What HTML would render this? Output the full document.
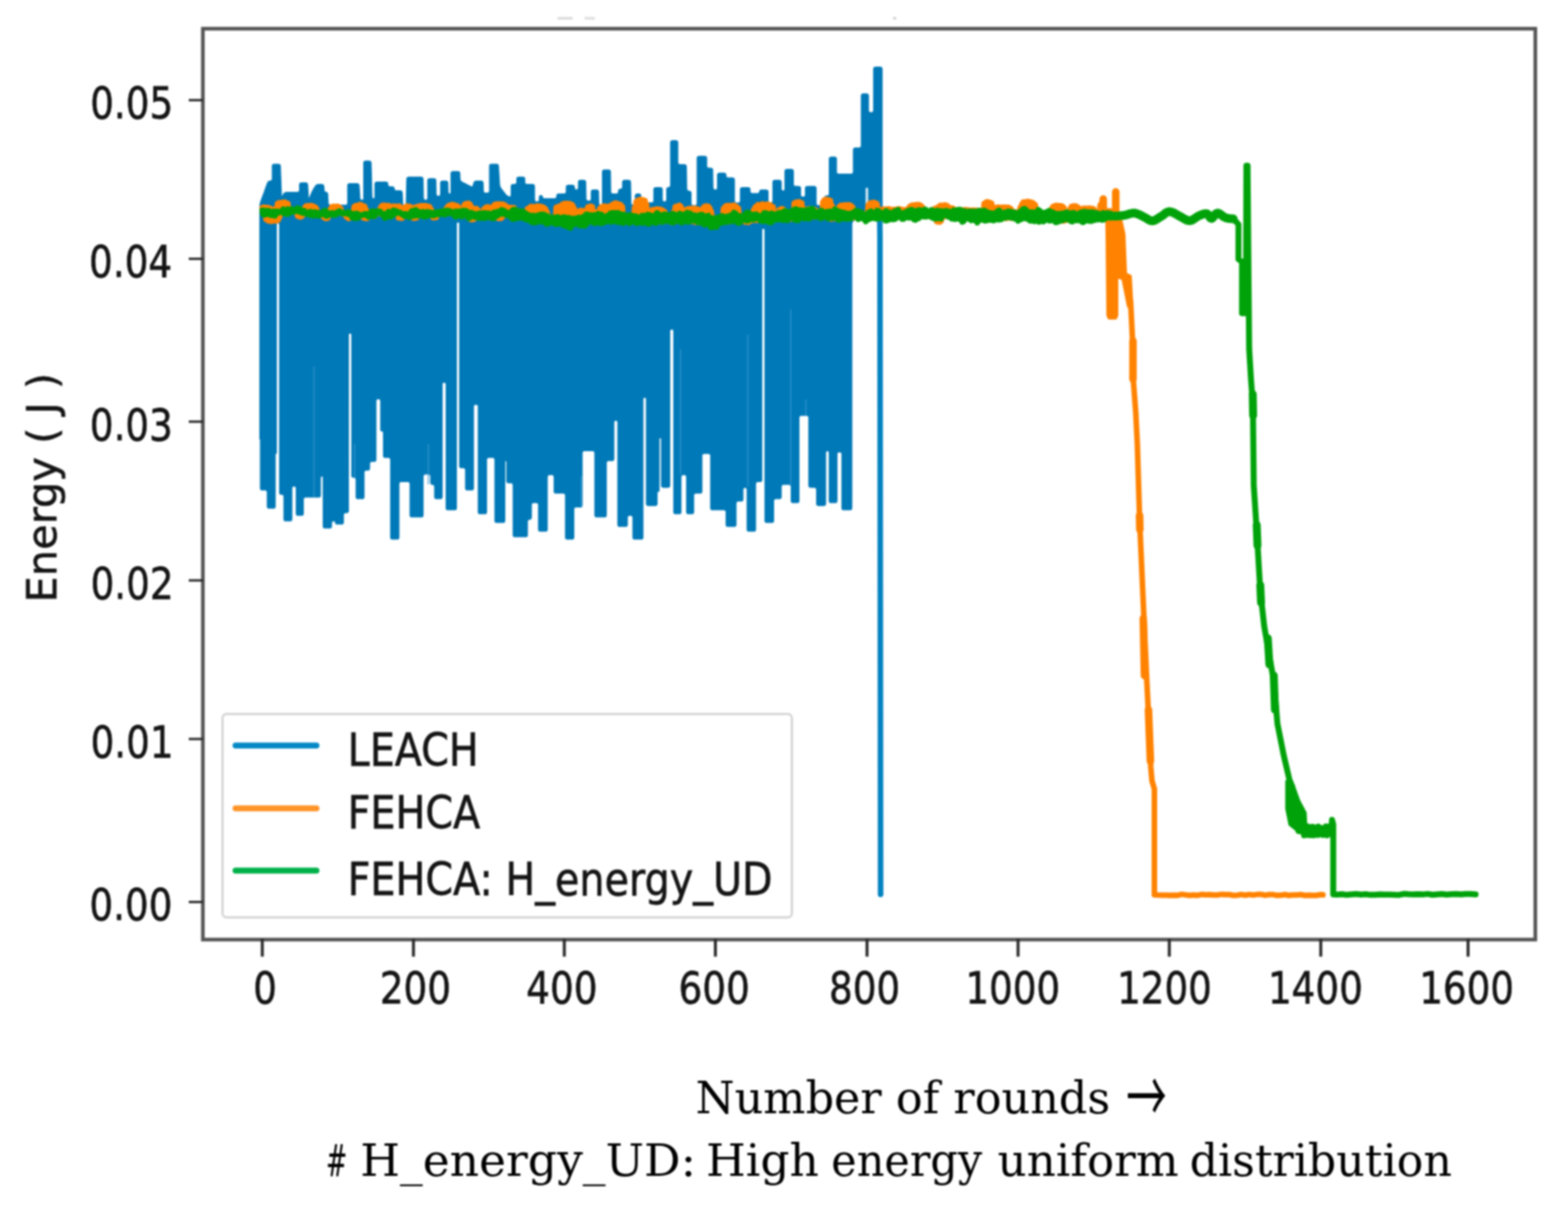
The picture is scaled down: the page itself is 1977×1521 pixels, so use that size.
<!DOCTYPE html>
<html><head><meta charset="utf-8"><title>Energy vs rounds</title>
<style>
html,body{margin:0;padding:0;background:#fff;}
body{width:1977px;height:1521px;overflow:hidden;}
svg{display:block;filter:blur(1.2px);}
</style></head>
<body>
<svg width="1977" height="1521" viewBox="0 0 1977 1521">
<rect width="1977" height="1521" fill="#fff"/>
<rect x="703" y="21.5" width="19" height="3" fill="#d8d8d8"/><rect x="737" y="21.5" width="13" height="3" fill="#dcdcdc"/><rect x="1126" y="21.5" width="4" height="3" fill="#d0d0d0"/>
<g id="data">
<path d="M327.6,264.6 L327.6,264.6 Q327.6,262.0 327.8,259.4 L327.8,258.6 Q328.0,256.0 328.9,253.6 L329.1,253.1 Q330.0,250.7 330.9,248.3 L333.1,242.4 Q334.0,240.0 334.8,237.5 L337.2,230.9 Q338.0,228.4 340.6,228.4 L340.7,228.4 Q343.3,228.4 343.3,225.8 L343.3,209.8 Q343.3,207.2 345.9,207.2 L350.8,207.2 Q353.4,207.2 353.5,209.8 L354.9,247.4 Q355.0,250.0 356.1,247.6 L357.4,244.9 Q358.5,242.5 361.1,242.5 L375.1,242.5 Q377.7,242.5 377.7,239.9 L377.7,233.1 Q377.7,230.5 380.3,230.5 L385.2,230.5 Q387.8,230.5 387.9,233.1 L388.9,250.1 Q389.0,252.7 390.0,250.3 L393.0,243.0 Q394.0,240.6 395.4,238.4 L397.6,234.7 Q399.0,232.5 401.6,232.5 L405.4,232.5 Q408.0,232.5 408.3,235.1 L408.8,240.6 Q409.0,242.6 411.0,242.6 L411.0,242.6 Q413.0,242.6 413.1,244.6 L413.8,256.2 Q414.0,258.8 416.6,258.8 L435.8,258.8 Q438.4,258.8 438.4,256.2 L438.4,234.1 Q438.4,231.5 441.0,231.5 L450.0,231.5 Q452.6,231.5 452.8,234.1 L453.8,250.4 Q454.0,252.7 456.3,252.7 L456.3,252.7 Q458.6,252.7 458.6,250.4 L458.6,205.6 Q458.6,203.0 461.2,203.0 L465.2,203.0 Q467.8,203.0 467.9,205.6 L469.0,248.8 Q469.0,250.7 470.9,250.7 L470.9,250.7 Q472.8,250.7 472.8,248.8 L472.8,232.1 Q472.8,229.5 475.4,229.5 L486.4,229.5 Q489.0,229.5 489.0,232.1 L489.0,232.9 Q489.0,235.5 491.6,235.5 L494.4,235.5 Q497.0,235.5 497.0,238.1 L497.0,238.1 Q497.0,240.6 499.6,240.6 L504.4,240.6 Q507.0,240.6 507.1,243.2 L507.9,258.8 Q508.0,260.8 510.0,260.8 L510.0,260.8 Q512.0,260.8 512.1,258.8 L512.9,226.0 Q513.0,223.4 515.6,223.4 L530.7,223.4 Q533.3,223.4 533.4,226.0 L533.9,250.1 Q534.0,252.7 536.6,252.7 L536.7,252.7 Q539.3,252.7 539.3,250.1 L539.3,228.0 Q539.3,225.4 541.9,225.4 L546.9,225.4 Q549.5,225.4 549.6,228.0 L549.9,245.1 Q550.0,247.7 552.6,247.7 L552.9,247.7 Q555.5,247.7 555.5,245.1 L555.5,231.0 Q555.5,228.4 558.1,228.4 L562.0,228.4 Q564.6,228.4 564.7,231.0 L565.0,242.8 Q565.0,244.6 566.9,244.6 L566.9,244.6 Q568.7,244.6 568.7,242.7 L568.7,218.9 Q568.7,216.3 571.3,216.3 L577.2,216.3 Q579.8,216.3 579.8,218.9 L580.0,225.8 Q580.0,228.4 582.3,229.6 L593.7,235.3 Q596.0,236.5 596.6,234.0 L597.4,230.9 Q598.0,228.4 600.6,228.4 L606.4,228.4 Q609.0,228.4 609.1,231.0 L609.4,241.0 Q609.5,243.6 612.1,243.6 L614.6,243.6 Q617.2,243.6 617.2,241.0 L617.2,209.8 Q617.2,207.2 619.8,207.2 L625.8,207.2 Q628.4,207.2 628.5,209.8 L629.9,232.9 Q630.0,235.5 631.6,237.6 L637.9,245.7 Q639.5,247.7 642.0,248.2 L642.0,248.2 Q644.5,248.7 644.5,246.2 L644.5,235.1 Q644.5,232.5 647.1,232.5 L649.0,232.5 Q651.6,232.5 651.6,229.9 L651.6,226.0 Q651.6,223.4 654.2,223.4 L659.1,223.4 Q661.7,223.4 661.7,226.0 L661.7,229.9 Q661.7,232.5 664.3,232.5 L671.3,232.5 Q673.9,232.5 673.9,235.1 L674.0,252.1 Q674.0,254.7 676.6,254.7 L677.4,254.7 Q680.0,254.7 680.0,252.1 L680.0,248.7 Q680.0,246.7 682.0,246.7 L682.0,246.7 Q684.0,246.7 684.0,248.7 L684.0,248.7 Q684.0,250.7 686.0,250.7 L699.4,250.7 Q702.0,250.7 702.0,248.1 L702.0,247.2 Q702.0,244.6 704.6,244.6 L711.4,244.6 Q714.0,244.6 714.0,242.0 L714.0,236.1 Q714.0,233.5 716.6,233.5 L721.6,233.5 Q724.2,233.5 724.2,236.1 L724.2,237.1 Q724.2,239.6 726.8,239.6 L726.8,239.6 Q729.3,239.6 729.3,237.1 L729.3,230.0 Q729.3,227.4 731.9,227.4 L735.8,227.4 Q738.4,227.4 738.5,230.0 L738.9,251.1 Q739.0,253.7 741.6,253.7 L742.9,253.7 Q745.5,253.7 745.5,251.1 L745.5,242.2 Q745.5,239.6 748.1,239.6 L752.0,239.6 Q754.6,239.6 754.7,242.2 L755.0,256.5 Q755.0,258.8 757.3,258.8 L757.3,258.8 Q759.6,258.8 759.6,256.5 L759.6,216.9 Q759.6,214.3 762.2,214.3 L767.1,214.3 Q769.7,214.3 769.7,216.9 L770.0,242.0 Q770.0,244.6 772.6,244.6 L777.3,244.6 Q779.9,244.6 779.9,242.0 L779.9,241.2 Q779.9,238.6 782.5,238.6 L782.5,238.6 Q785.0,238.6 785.0,236.0 L785.0,230.0 Q785.0,227.4 787.6,227.4 L792.4,227.4 Q795.0,227.4 795.0,230.0 L795.5,256.2 Q795.5,258.8 798.1,258.8 L798.4,258.8 Q801.0,258.8 801.0,256.2 L801.0,247.2 Q801.0,244.6 803.6,244.6 L805.4,244.6 Q808.0,244.6 808.0,247.2 L808.0,253.2 Q808.0,255.8 810.6,255.8 L821.8,255.8 Q824.4,255.8 824.4,253.2 L824.4,239.1 Q824.4,236.5 827.0,236.5 L832.4,236.5 Q835.0,236.5 835.0,239.1 L835.0,252.1 Q835.0,254.7 837.6,254.7 L838.0,254.7 Q840.6,254.7 840.6,252.1 L840.6,238.9 Q840.6,236.5 843.0,236.5 L843.0,236.5 Q845.5,236.5 845.5,234.1 L845.5,179.9 Q845.5,177.3 848.1,177.3 L852.0,177.3 Q854.6,177.3 854.6,179.9 L854.6,205.1 Q854.6,207.7 857.2,207.7 L862.7,207.7 Q865.3,207.7 865.4,210.3 L865.9,238.4 Q866.0,241.0 868.6,241.0 L868.7,241.0 Q871.3,241.0 871.3,243.6 L871.3,256.7 Q871.3,259.3 873.9,259.3 L876.4,259.3 Q879.0,259.3 879.0,256.7 L879.0,199.6 Q879.0,197.0 881.6,197.0 L888.4,197.0 Q891.0,197.0 891.0,199.6 L891.0,209.6 Q891.0,212.2 893.6,212.2 L896.0,212.2 Q898.6,212.2 898.6,214.8 L899.0,236.9 Q899.0,239.5 901.6,239.5 L902.1,239.5 Q904.7,239.5 904.7,236.9 L904.7,220.9 Q904.7,218.3 907.3,218.3 L912.7,218.3 Q915.3,218.3 915.3,220.9 L915.3,221.8 Q915.3,224.4 917.9,224.4 L923.4,224.4 Q926.0,224.4 926.0,227.0 L926.0,253.6 Q926.0,256.2 928.6,256.2 L930.9,256.2 Q933.5,256.2 933.5,253.6 L933.5,239.1 Q933.5,236.5 936.1,236.5 L943.1,236.5 Q945.7,236.5 945.7,239.1 L945.7,241.4 Q945.7,244.0 948.3,244.0 L955.5,244.0 Q957.8,244.0 957.8,241.8 L957.8,241.8 Q957.8,239.5 960.0,239.5 L965.8,239.5 Q968.4,239.5 968.4,242.1 L968.4,253.4 Q968.4,256.0 971.0,256.0 L971.9,256.0 Q974.5,256.0 974.5,253.4 L974.5,230.0 Q974.5,227.4 977.1,227.4 L982.4,227.4 Q985.0,227.4 985.0,230.0 L985.0,238.6 Q985.0,241.0 987.4,241.0 L987.4,241.0 Q989.7,241.0 989.7,238.6 L989.7,216.3 Q989.7,213.7 992.3,213.7 L997.7,213.7 Q1000.3,213.7 1000.3,216.3 L1000.3,232.4 Q1000.3,235.0 1002.9,235.0 L1006.8,235.0 Q1009.4,235.0 1009.4,237.6 L1009.4,246.0 Q1009.4,248.6 1012.0,248.6 L1012.9,248.6 Q1015.5,248.6 1015.5,246.0 L1015.5,237.6 Q1015.5,235.0 1018.1,235.0 L1026.4,235.0 Q1029.0,235.0 1029.0,237.6 L1029.0,256.7 Q1029.0,259.3 1031.6,259.3 L1037.2,259.3 Q1039.8,259.3 1039.8,256.7 L1039.8,249.6 Q1039.8,247.0 1042.4,247.0 L1043.0,247.0 Q1045.6,247.0 1045.6,244.4 L1045.6,200.6 Q1045.6,198.0 1048.2,198.0 L1052.1,198.0 Q1054.7,198.0 1054.7,200.6 L1054.7,216.9 Q1054.7,219.5 1057.3,219.5 L1073.4,219.5 Q1076.0,219.5 1076.0,216.9 L1076.0,189.2 Q1076.0,186.6 1078.6,186.6 L1083.4,186.6 Q1086.0,186.6 1086.0,184.0 L1086.0,121.0 Q1086.0,118.4 1088.6,118.4 L1092.4,118.4 Q1095.0,118.4 1095.0,121.0 L1095.0,139.6 Q1095.0,142.2 1097.6,142.2 L1098.9,142.2 Q1101.5,142.2 1101.5,139.6 L1101.5,87.3 Q1101.5,84.7 1104.1,84.7 L1109.6,84.7 Q1112.2,84.7 1112.2,87.3 L1112.2,259.4 Q1112.2,262.0 1109.6,262.5 L1092.6,265.5 Q1090.0,266.0 1088.0,267.7 L1076.0,278.3 Q1074.0,280.0 1074.0,282.6 L1074.0,640.4 Q1074.0,643.0 1071.4,643.0 L1064.1,643.0 Q1061.5,643.0 1061.5,640.4 L1061.5,572.6 Q1061.5,570.0 1058.9,570.0 L1057.9,570.0 Q1055.3,570.0 1055.3,572.6 L1055.3,631.4 Q1055.3,634.0 1052.7,634.0 L1048.1,634.0 Q1045.5,634.0 1045.5,631.4 L1045.5,570.8 Q1045.5,568.5 1043.2,568.5 L1043.2,568.5 Q1041.0,568.5 1041.0,570.8 L1041.0,635.1 Q1041.0,637.7 1038.4,637.7 L1032.2,637.7 Q1029.6,637.7 1029.6,635.1 L1029.6,617.3 Q1029.6,614.7 1027.0,614.7 L1022.4,614.7 Q1019.8,614.7 1019.8,612.1 L1019.8,526.6 Q1019.8,524.0 1017.2,524.0 L1010.0,524.0 Q1007.4,524.0 1007.4,526.6 L1007.4,631.4 Q1007.4,634.0 1004.8,634.0 L1000.2,634.0 Q997.6,634.0 997.6,631.4 L997.6,613.6 Q997.6,611.0 995.0,611.0 L987.6,611.0 Q985.0,611.0 985.0,613.6 L985.0,626.4 Q985.0,629.0 982.4,629.0 L978.0,629.0 Q975.4,629.0 975.4,631.6 L975.4,656.4 Q975.4,659.0 972.8,659.0 L967.1,659.0 Q964.5,659.0 964.5,656.4 L964.5,290.0 Q964.5,288.0 962.5,288.0 L962.5,288.0 Q960.5,288.0 960.5,290.0 L960.5,604.9 Q960.5,607.5 957.9,607.5 L955.3,607.5 Q952.7,607.5 952.7,610.1 L952.7,667.4 Q952.7,670.0 950.1,670.0 L944.6,670.0 Q942.0,670.0 942.0,667.4 L942.0,617.3 Q942.0,614.7 939.4,614.7 L939.4,614.7 Q936.8,614.7 936.8,617.3 L936.8,629.4 Q936.8,632.0 934.2,632.0 L930.6,632.0 Q928.0,632.0 928.0,634.6 L928.0,661.4 Q928.0,664.0 925.4,664.0 L918.1,664.0 Q915.5,664.0 915.5,661.4 L915.5,645.6 Q915.5,643.0 912.9,643.0 L898.6,643.0 Q896.0,643.0 896.0,640.4 L896.0,574.6 Q896.0,572.0 893.4,572.0 L887.6,572.0 Q885.0,572.0 885.0,574.6 L885.0,619.4 Q885.0,622.0 882.4,622.0 L877.2,622.0 Q874.6,622.0 874.6,624.6 L874.6,645.4 Q874.6,648.0 872.0,648.0 L868.3,648.0 Q865.7,648.0 865.7,645.4 L865.7,601.3 Q865.7,598.7 863.1,598.7 L861.2,598.7 Q858.6,598.7 858.6,601.3 L858.6,645.4 Q858.6,648.0 856.0,648.0 L852.1,648.0 Q849.5,648.0 849.5,645.4 L849.5,417.5 Q849.5,415.0 847.0,415.0 L847.0,415.0 Q844.5,415.0 844.5,417.5 L844.5,612.1 Q844.5,614.7 841.9,614.7 L836.6,614.7 Q834.0,614.7 834.0,612.1 L834.0,553.5 Q834.0,552.0 832.5,552.0 L832.5,552.0 Q831.0,552.0 831.0,553.5 L831.0,618.8 Q831.0,620.0 829.8,620.0 L829.8,620.0 Q828.5,620.0 828.5,621.2 L828.5,635.1 Q828.5,637.7 825.9,637.7 L817.6,637.7 Q815.0,637.7 815.0,635.1 L815.0,503.1 Q815.0,501.0 812.9,501.0 L812.9,501.0 Q810.7,501.0 810.7,503.1 L810.7,677.4 Q810.7,680.0 808.1,680.0 L800.6,680.0 Q798.0,680.0 798.0,677.4 L798.0,652.6 Q798.0,650.0 795.4,650.0 L793.6,650.0 Q791.0,650.0 791.0,652.6 L791.0,661.4 Q791.0,664.0 788.4,664.0 L781.6,664.0 Q779.0,664.0 779.0,661.4 L779.0,532.5 Q779.0,530.0 776.5,530.0 L776.5,530.0 Q774.0,530.0 774.0,532.5 L774.0,578.4 Q774.0,581.0 771.4,581.0 L767.1,581.0 Q764.5,581.0 764.5,583.6 L764.5,649.4 Q764.5,652.0 761.9,652.0 L752.6,652.0 Q750.0,652.0 750.0,649.4 L750.0,571.1 Q750.0,568.5 747.4,568.5 L736.6,568.5 Q734.0,568.5 734.0,571.1 L734.0,636.9 Q734.0,639.5 731.4,639.5 L726.1,639.5 Q723.5,639.5 723.5,642.1 L723.5,677.4 Q723.5,680.0 720.9,680.0 L715.6,680.0 Q713.0,680.0 713.0,677.4 L713.0,624.6 Q713.0,622.0 710.4,622.0 L701.3,622.0 Q698.7,622.0 698.7,619.4 L698.7,601.3 Q698.7,598.7 696.1,598.7 L692.6,598.7 Q690.0,598.7 690.0,601.3 L690.0,667.4 Q690.0,670.0 687.4,670.0 L681.6,670.0 Q679.0,670.0 679.0,667.4 L679.0,636.6 Q679.0,634.0 676.4,634.0 L672.6,634.0 Q670.0,634.0 670.0,636.6 L670.0,652.5 Q670.0,655.0 667.5,655.0 L667.5,655.0 Q665.0,655.0 665.0,657.5 L665.0,674.4 Q665.0,677.0 662.4,677.0 L649.6,677.0 Q647.0,677.0 647.0,674.4 L647.0,611.6 Q647.0,609.0 644.4,609.0 L641.6,609.0 Q639.0,609.0 639.0,606.4 L639.0,582.2 Q639.0,581.0 637.8,581.0 L637.8,581.0 Q636.5,581.0 636.5,582.2 L636.5,656.4 Q636.5,659.0 633.9,659.0 L626.6,659.0 Q624.0,659.0 624.0,656.4 L624.0,579.6 Q624.0,577.0 621.4,577.0 L616.1,577.0 Q613.5,577.0 613.5,579.6 L613.5,645.4 Q613.5,648.0 610.9,648.0 L605.6,648.0 Q603.0,648.0 603.0,645.4 L603.0,512.6 Q603.0,510.0 600.4,510.0 L599.6,510.0 Q597.0,510.0 597.0,512.6 L597.0,615.4 Q597.0,618.0 594.4,618.0 L589.6,618.0 Q587.0,618.0 587.0,615.4 L587.0,592.6 Q587.0,590.0 584.4,590.0 L582.1,590.0 Q579.5,590.0 579.5,587.4 L579.5,282.0 Q579.5,280.0 577.5,280.0 L577.5,280.0 Q575.5,280.0 575.5,282.0 L575.5,640.4 Q575.5,643.0 572.9,643.0 L565.1,643.0 Q562.5,643.0 562.5,640.4 L562.5,484.5 Q562.5,482.0 560.0,482.0 L560.0,482.0 Q557.5,482.0 557.5,484.5 L557.5,626.4 Q557.5,629.0 554.9,629.0 L550.6,629.0 Q548.0,629.0 548.0,626.4 L548.0,613.5 Q548.0,611.0 545.5,611.0 L545.5,611.0 Q543.0,611.0 543.0,608.5 L543.0,600.4 Q543.0,597.8 540.4,597.8 L536.1,597.8 Q533.5,597.8 533.5,600.4 L533.5,649.4 Q533.5,652.0 530.9,652.0 L519.6,652.0 Q517.0,652.0 517.0,649.4 L517.0,610.1 Q517.0,607.5 514.4,607.5 L505.6,607.5 Q503.0,607.5 503.0,610.1 L503.0,677.4 Q503.0,680.0 500.4,680.0 L495.1,680.0 Q492.5,680.0 492.5,677.4 L492.5,579.6 Q492.5,577.0 489.9,577.0 L486.1,577.0 Q483.5,577.0 483.5,574.4 L483.5,545.4 Q483.5,543.6 481.8,543.6 L481.8,543.6 Q480.0,543.6 480.0,541.9 L480.0,505.6 Q480.0,503.0 477.4,503.0 L476.6,503.0 Q474.0,503.0 474.0,505.6 L474.0,579.4 Q474.0,582.0 471.4,582.0 L468.6,582.0 Q466.0,582.0 466.0,584.6 L466.0,590.4 Q466.0,593.0 463.4,593.0 L461.6,593.0 Q459.0,593.0 459.0,595.6 L459.0,626.4 Q459.0,629.0 456.4,629.0 L451.6,629.0 Q449.0,629.0 449.0,626.4 L449.0,604.6 Q449.0,602.0 446.4,602.0 L446.1,602.0 Q443.5,602.0 443.5,599.4 L443.5,422.1 Q443.5,420.0 441.4,420.0 L441.4,420.0 Q439.3,420.0 439.3,422.1 L439.3,644.0 Q439.3,646.6 436.7,646.6 L435.6,646.6 Q433.0,646.6 433.0,649.2 L433.0,658.4 Q433.0,661.0 430.4,661.0 L425.0,661.0 Q423.0,661.0 423.0,659.0 L423.0,659.0 Q423.0,657.0 421.0,657.0 L420.5,657.0 Q418.0,657.0 418.0,659.5 L418.0,663.4 Q418.0,666.0 415.4,666.0 L410.1,666.0 Q407.5,666.0 407.5,663.4 L407.5,602.2 Q407.5,600.5 405.8,600.5 L405.8,600.5 Q404.0,600.5 404.0,602.2 L404.0,624.4 Q404.0,627.0 401.4,627.0 L385.1,627.0 Q382.5,627.0 382.5,629.6 L382.5,647.4 Q382.5,650.0 379.9,650.0 L376.1,650.0 Q373.5,650.0 373.5,647.4 L373.5,615.6 Q373.5,613.0 370.9,613.0 L370.6,613.0 Q368.0,613.0 368.0,615.6 L368.0,654.4 Q368.0,657.0 365.4,657.0 L360.6,657.0 Q358.0,657.0 358.0,654.4 L358.0,626.1 Q358.0,623.5 355.4,623.5 L355.1,623.5 Q352.5,623.5 352.5,620.9 L352.5,283.0 Q352.5,281.0 350.5,281.0 L350.5,281.0 Q348.5,281.0 348.5,283.0 L348.5,571.2 Q348.5,572.0 347.8,572.0 L347.8,572.0 Q347.0,572.0 347.0,572.8 L347.0,638.4 Q347.0,641.0 344.4,641.0 L339.6,641.0 Q337.0,641.0 337.0,638.4 L337.0,620.6 Q337.0,618.0 334.4,618.0 L330.9,618.0 Q328.3,618.0 328.3,615.4 L328.3,554.4 Q328.3,554.0 328.0,554.0 L328.0,554.0 Q327.6,554.0 327.6,553.6 Z" fill="#0079b8" stroke="#0079b8" stroke-width="1.2" stroke-linejoin="round"/>
<line x1="1093" y1="238" x2="1093" y2="262" stroke="#ffffff" stroke-width="3" stroke-linecap="round" opacity="0.9"/><line x1="395.8" y1="462" x2="395.8" y2="627" stroke="#3a9ad0" stroke-width="2" opacity="0.6"/><line x1="540" y1="560" x2="540" y2="611" stroke="#3a9ad0" stroke-width="2" opacity="0.6"/><line x1="858" y1="440" x2="858" y2="598" stroke="#3a9ad0" stroke-width="2" opacity="0.6"/><line x1="943" y1="422" x2="943" y2="614" stroke="#3a9ad0" stroke-width="2" opacity="0.6"/><line x1="997" y1="390" x2="997" y2="611" stroke="#3a9ad0" stroke-width="2" opacity="0.6"/><line x1="1016" y1="504" x2="1016" y2="524" stroke="#3a9ad0" stroke-width="2" opacity="0.6"/><line x1="447" y1="560" x2="447" y2="602" stroke="#3a9ad0" stroke-width="2" opacity="0.6"/><line x1="733" y1="600" x2="733" y2="639" stroke="#3a9ad0" stroke-width="2" opacity="0.6"/>
<path d="M1109,255 L1109.5,300 L1110.3,1128" fill="none" stroke="#0382c0" stroke-width="7" stroke-linecap="round"/>
<path d="M330.7,262.0 L331.6,267.4 L332.6,261.3 L333.5,268.8 L334.5,261.8 L335.4,276.5 L336.4,261.7 L337.3,277.8 L338.3,262.0 L339.2,278.8 L340.2,262.5 L341.1,279.1 L342.1,263.6 L343.0,278.9 L344.0,267.6 L344.9,278.6 L345.9,268.9 L346.8,278.4 L347.8,263.0 L348.7,278.5 L349.7,257.2 L350.6,277.5 L351.6,255.7 L352.5,274.0 L353.5,256.0 L354.4,266.9 L355.4,255.6 L356.3,267.0 L357.3,254.9 L358.2,267.0 L359.2,255.0 L360.1,266.9 L361.1,256.1 L362.0,266.3 L363.0,256.7 L363.9,265.8 L364.9,262.3 L365.8,266.3 L366.8,266.2 L367.7,266.2 L368.7,266.9 L369.6,265.7 L370.6,266.2 L371.5,266.0 L372.5,266.0 L373.4,265.3 L374.4,265.7 L375.3,272.5 L376.3,265.8 L377.2,273.0 L378.2,266.9 L379.1,273.7 L380.1,267.5 L381.0,272.7 L382.0,268.3 L382.9,268.4 L383.9,262.3 L384.8,267.7 L385.8,260.1 L386.7,267.5 L387.7,259.5 L388.6,268.8 L389.6,260.3 L390.5,268.6 L391.5,259.3 L392.4,268.5 L393.4,259.4 L394.3,269.1 L395.3,260.3 L396.2,269.0 L397.2,260.9 L398.1,268.7 L399.1,262.9 L400.0,269.9 L401.0,269.9 L401.9,269.5 L402.9,270.4 L403.8,269.8 L404.8,269.9 L405.7,269.2 L406.7,270.3 L407.6,273.2 L408.6,269.1 L409.5,275.1 L410.5,269.2 L411.4,275.5 L412.4,269.9 L413.3,275.1 L414.3,270.0 L415.2,270.0 L416.2,264.5 L417.1,269.2 L418.1,261.3 L419.0,267.7 L420.0,260.3 L420.9,267.9 L421.9,260.9 L422.8,267.6 L423.8,260.3 L424.7,267.6 L425.7,260.3 L426.6,267.2 L427.6,260.9 L428.5,267.9 L429.5,262.6 L430.4,269.1 L431.4,269.4 L432.3,269.2 L433.3,269.6 L434.2,269.3 L435.2,270.8 L436.1,272.9 L437.1,271.4 L438.0,274.3 L439.0,270.8 L439.9,275.5 L440.9,270.6 L441.8,274.8 L442.8,270.4 L443.7,272.4 L444.7,270.7 L445.6,270.6 L446.6,260.7 L447.5,270.5 L448.5,259.5 L449.4,270.6 L450.4,258.9 L451.3,271.3 L452.3,258.9 L453.2,270.5 L454.2,258.0 L455.1,271.0 L456.1,258.7 L457.0,273.2 L458.0,259.7 L458.9,275.0 L459.9,260.6 L460.8,275.3 L461.8,265.0 L462.7,275.6 L463.7,271.2 L464.6,273.8 L465.6,271.0 L466.5,269.9 L467.5,269.8 L468.4,272.3 L469.4,269.1 L470.3,272.5 L471.3,270.2 L472.2,272.8 L473.2,269.2 L474.1,269.5 L475.1,269.3 L476.0,268.6 L477.0,268.3 L477.9,269.1 L478.9,263.5 L479.8,269.7 L480.8,260.3 L481.7,269.9 L482.7,259.1 L483.6,270.8 L484.6,258.9 L485.5,270.8 L486.5,259.2 L487.4,269.3 L488.4,259.4 L489.3,269.3 L490.3,259.2 L491.2,269.5 L492.2,261.3 L493.1,268.9 L494.1,261.2 L495.0,269.4 L496.0,260.1 L496.9,268.0 L497.9,260.1 L498.8,268.7 L499.8,260.3 L500.7,268.6 L501.7,260.2 L502.6,274.8 L503.6,260.1 L504.5,274.6 L505.5,261.8 L506.4,275.2 L507.4,267.2 L508.3,274.2 L509.3,270.4 L510.2,270.6 L511.2,260.9 L512.1,270.2 L513.1,259.7 L514.0,271.4 L515.0,260.8 L515.9,271.3 L516.9,260.6 L517.8,270.6 L518.8,261.7 L519.7,273.8 L520.7,269.6 L521.6,275.2 L522.6,266.8 L523.5,275.1 L524.5,261.1 L525.4,274.5 L526.4,260.7 L527.3,270.1 L528.3,260.1 L529.2,270.4 L530.2,259.7 L531.1,270.0 L532.1,259.6 L533.0,270.3 L534.0,259.6 L534.9,269.9 L535.9,259.6 L536.8,270.1 L537.8,259.8 L538.7,269.2 L539.7,260.2 L540.6,270.5 L541.6,260.8 L542.5,270.1 L543.5,263.7 L544.4,269.8 L545.4,269.6 L546.3,274.5 L547.3,269.1 L548.2,274.2 L549.2,268.9 L550.1,274.3 L551.1,268.0 L552.0,268.5 L553.0,268.9 L553.9,268.2 L554.9,268.7 L555.8,268.4 L556.8,267.9 L557.8,267.6 L558.7,268.2 L559.7,267.9 L560.6,268.0 L561.6,268.9 L562.5,263.4 L563.5,268.2 L564.4,260.7 L565.4,268.7 L566.3,258.9 L567.3,267.5 L568.2,258.8 L569.2,267.5 L570.1,258.1 L571.1,267.5 L572.0,258.3 L573.0,268.4 L573.9,258.9 L574.9,269.5 L575.8,259.6 L576.8,269.5 L577.7,260.6 L578.7,269.0 L579.6,268.2 L580.6,268.9 L581.5,267.8 L582.5,269.2 L583.4,263.6 L584.4,269.8 L585.3,258.4 L586.3,270.8 L587.2,256.9 L588.2,271.4 L589.1,256.8 L590.1,271.3 L591.0,256.6 L592.0,275.0 L592.9,257.9 L593.9,276.9 L594.8,261.3 L595.8,276.7 L596.7,270.6 L597.7,276.5 L598.6,264.7 L599.6,272.2 L600.5,262.9 L601.5,272.6 L602.4,264.2 L603.4,272.2 L604.3,270.4 L605.3,272.1 L606.2,270.3 L607.2,273.1 L608.1,271.4 L609.1,272.9 L610.0,263.9 L611.0,274.3 L611.9,262.2 L612.9,273.3 L613.8,261.1 L614.8,273.0 L615.7,261.1 L616.7,273.9 L617.6,261.8 L618.6,273.8 L619.5,261.9 L620.5,273.2 L621.4,260.9 L622.4,273.3 L623.3,258.5 L624.3,273.7 L625.2,257.6 L626.2,273.8 L627.1,257.4 L628.1,275.3 L629.0,257.3 L630.0,275.6 L630.9,257.6 L631.9,275.3 L632.8,257.5 L633.8,273.4 L634.7,257.7 L635.7,271.2 L636.6,258.7 L637.6,271.1 L638.5,260.3 L639.5,271.1 L640.4,261.8 L641.4,270.9 L642.3,261.7 L643.3,271.6 L644.2,261.8 L645.2,273.1 L646.1,262.2 L647.1,273.0 L648.0,261.9 L649.0,273.4 L649.9,264.3 L650.9,273.6 L651.8,269.3 L652.8,273.6 L653.7,270.6 L654.7,274.3 L655.6,269.7 L656.6,274.1 L657.5,270.3 L658.5,274.2 L659.4,270.2 L660.4,274.1 L661.3,270.4 L662.3,274.6 L663.2,270.6 L664.2,275.4 L665.1,263.3 L666.1,276.1 L667.0,262.4 L668.0,276.6 L668.9,260.8 L669.9,277.2 L670.8,260.5 L671.8,277.6 L672.7,261.0 L673.7,279.0 L674.6,260.9 L675.6,278.8 L676.5,260.1 L677.5,277.9 L678.4,260.0 L679.4,277.7 L680.3,260.2 L681.3,277.7 L682.2,260.5 L683.2,278.7 L684.1,261.1 L685.1,278.8 L686.0,261.9 L687.0,279.0 L687.9,263.8 L688.9,279.5 L689.8,267.5 L690.8,279.1 L691.7,273.6 L692.7,278.4 L693.6,273.4 L694.6,279.2 L695.5,274.2 L696.5,279.2 L697.4,275.2 L698.4,279.5 L699.3,275.0 L700.3,280.2 L701.2,261.8 L702.2,281.2 L703.1,260.7 L704.1,280.8 L705.0,260.2 L706.0,281.6 L706.9,260.0 L707.9,281.3 L708.8,258.0 L709.8,282.1 L710.7,256.9 L711.7,282.2 L712.6,256.4 L713.6,282.0 L714.5,256.9 L715.5,283.4 L716.4,256.6 L717.4,284.9 L718.3,256.9 L719.3,284.1 L720.2,257.6 L721.2,284.0 L722.1,259.0 L723.1,281.9 L724.0,262.7 L725.0,281.8 L725.9,276.0 L726.9,281.5 L727.8,271.0 L728.8,281.3 L729.7,266.8 L730.7,282.0 L731.6,265.6 L732.6,281.2 L733.5,265.5 L734.5,281.7 L735.4,266.7 L736.4,281.5 L737.3,268.0 L738.3,280.5 L739.2,264.9 L740.2,280.8 L741.1,261.2 L742.1,280.1 L743.0,260.5 L744.0,279.5 L744.9,260.1 L745.9,279.0 L746.8,260.8 L747.8,279.0 L748.7,266.3 L749.7,279.4 L750.6,273.3 L751.6,279.9 L752.5,271.9 L753.5,280.3 L754.4,267.1 L755.4,280.0 L756.3,263.2 L757.3,279.9 L758.2,261.2 L759.2,278.0 L760.1,260.2 L761.1,277.7 L762.0,260.1 L763.0,278.3 L763.9,260.7 L764.9,278.5 L765.8,260.3 L766.8,278.3 L767.7,261.5 L768.7,278.7 L769.6,260.2 L770.6,277.9 L771.5,258.3 L772.5,277.9 L773.4,257.8 L774.4,277.4 L775.3,256.3 L776.3,277.3 L777.2,256.2 L778.2,277.4 L779.1,257.2 L780.1,276.5 L781.0,257.5 L782.0,277.0 L782.9,258.4 L783.9,277.2 L784.8,260.9 L785.8,277.9 L786.7,271.7 L787.7,277.9 L788.6,271.6 L789.6,278.0 L790.5,272.8 L791.5,279.1 L792.4,273.6 L793.4,279.0 L794.3,272.6 L795.3,278.3 L796.2,271.7 L797.2,278.6 L798.1,272.8 L799.1,278.7 L800.0,261.9 L801.0,279.3 L801.9,254.9 L802.9,278.2 L803.8,253.0 L804.8,278.6 L805.7,252.1 L806.7,277.7 L807.6,251.6 L808.6,278.4 L809.5,252.3 L810.5,278.4 L811.4,252.2 L812.4,278.2 L813.3,253.1 L814.3,278.5 L815.2,257.7 L816.2,278.8 L817.1,273.8 L818.1,280.0 L819.0,268.3 L820.0,279.2 L820.9,265.9 L821.9,278.3 L822.8,264.6 L823.8,279.0 L824.7,264.6 L825.7,278.5 L826.6,264.1 L827.6,279.1 L828.5,263.6 L829.5,279.1 L830.4,264.2 L831.4,279.2 L832.3,263.9 L833.3,278.1 L834.2,264.4 L835.2,279.3 L836.1,265.8 L837.1,279.3 L838.0,267.0 L839.0,278.6 L839.9,272.7 L840.9,278.6 L841.8,272.4 L842.8,278.3 L843.7,273.2 L844.7,278.8 L845.6,273.4 L846.6,280.2 L847.5,273.5 L848.5,279.9 L849.4,267.3 L850.4,278.6 L851.3,260.9 L852.3,278.9 L853.2,259.9 L854.2,278.2 L855.1,260.0 L856.1,278.0 L857.0,259.1 L858.0,278.2 L858.9,260.9 L859.9,278.9 L860.8,265.4 L861.8,278.5 L862.7,271.8 L863.7,278.2 L864.6,265.9 L865.6,278.4 L866.5,263.7 L867.5,278.6 L868.4,263.4 L869.4,278.6 L870.3,263.1 L871.3,279.1 L872.2,263.1 L873.2,278.9 L874.1,263.0 L875.1,279.7 L876.0,262.8 L877.0,280.3 L877.9,263.5 L878.9,280.5 L879.8,263.7 L880.8,280.8 L881.7,264.5 L882.7,280.1 L883.6,265.2 L884.6,279.9 L885.5,264.3 L886.5,279.7 L887.4,261.2 L888.4,279.6 L889.3,260.1 L890.3,279.7 L891.2,260.0 L892.2,279.6 L893.1,260.3 L894.1,281.3 L895.0,262.5 L896.0,281.8 L896.9,266.7 L897.9,280.9 L898.8,275.3 L899.8,281.2 L900.7,275.1 L901.7,282.0 L902.6,275.4 L903.6,281.2 L904.5,274.8 L905.5,280.7 L906.4,275.3 L907.4,280.6 L908.3,274.5 L909.3,279.9 L910.2,273.7 L911.2,279.5 L912.1,263.3 L913.1,279.9 L914.0,261.1 L915.0,279.7 L915.9,259.5 L916.9,279.1 L917.8,259.2 L918.8,279.4 L919.7,259.4 L920.7,278.9 L921.6,259.2 L922.6,278.7 L923.5,259.3 L924.5,277.3 L925.4,258.7 L926.4,277.4 L927.3,260.2 L928.3,278.4 L929.2,261.0 L930.2,279.1 L931.1,263.0 L932.1,278.5 L933.0,273.1 L934.0,278.1 L934.9,272.7 L935.9,278.3 L936.8,272.6 L937.8,278.3 L938.7,272.5 L939.7,280.1 L940.6,271.6 L941.6,279.5 L942.5,271.9 L943.5,280.4 L944.4,271.6 L945.4,279.1 L946.3,271.7 L947.3,277.9 L948.2,271.8 L949.2,277.3 L950.1,265.1 L951.1,277.8 L952.0,261.4 L953.0,277.7 L953.9,259.9 L954.9,277.8 L955.8,258.3 L956.8,277.3 L957.7,258.4 L958.7,277.4 L959.6,258.2 L960.6,278.2 L961.5,257.3 L962.5,278.2 L963.4,258.0 L964.4,277.4 L965.3,258.1 L966.3,277.8 L967.2,257.5 L968.2,276.6 L969.1,257.9 L970.1,276.2 L971.0,258.2 L972.0,276.8 L972.9,260.2 L973.9,276.2 L974.8,261.1 L975.8,276.3 L976.7,270.2 L977.7,276.4 L978.6,270.2 L979.6,275.4 L980.5,270.2 L981.5,275.5 L982.4,265.0 L983.4,275.0 L984.3,263.7 L985.3,275.5 L986.2,263.2 L987.2,274.6 L988.1,264.5 L989.1,274.5 L990.0,266.2 L991.0,274.5 L991.9,269.3 L992.9,276.8 L993.8,269.6 L994.8,276.3 L995.7,269.8 L996.7,275.9 L997.6,269.3 L998.6,275.9 L999.5,268.3 L1000.5,273.9 L1001.4,256.6 L1002.4,273.6 L1003.3,255.3 L1004.3,273.6 L1005.2,254.9 L1006.2,273.3 L1007.1,254.4 L1008.1,274.6 L1009.0,255.2 L1010.0,274.3 L1010.9,256.0 L1011.9,273.4 L1012.8,263.6 L1013.8,273.8 L1014.7,263.8 L1015.7,274.1 L1016.6,263.9 L1017.6,273.9 L1018.5,264.1 L1019.5,273.0 L1020.4,263.3 L1021.4,273.2 L1022.3,263.5 L1023.3,272.9 L1024.2,263.9 L1025.2,273.3 L1026.1,263.9 L1027.1,272.4 L1028.0,264.8 L1029.0,271.5 L1029.9,266.8 L1030.9,271.3 L1031.8,266.7 L1032.8,272.0 L1033.7,266.5 L1034.7,271.3 L1035.6,266.2 L1036.6,272.2 L1037.5,255.1 L1038.5,272.6 L1039.4,252.3 L1040.4,272.3 L1041.3,251.6 L1042.3,273.2 L1043.2,252.0 L1044.2,273.4 L1045.1,252.2 L1046.1,273.6 L1047.0,252.9 L1048.0,276.2 L1048.9,259.0 L1049.9,275.8 L1050.8,267.5 L1051.8,275.9 L1052.7,267.5 L1053.7,275.0 L1054.6,267.7 L1055.6,272.9 L1056.5,262.7 L1057.5,273.2 L1058.4,260.8 L1059.4,274.7 L1060.3,259.0 L1061.3,274.7 L1062.2,259.2 L1063.2,274.7 L1064.1,258.6 L1065.1,275.1 L1066.0,258.4 L1067.0,275.2 L1067.9,259.0 L1068.9,275.7 L1069.8,258.3 L1070.8,275.5 L1071.7,258.8 L1072.7,275.3 L1073.6,259.7 L1074.6,274.5 L1075.5,262.1 L1076.5,274.4 L1077.4,268.4 L1078.4,274.0 L1079.3,269.5 L1080.3,274.2 L1081.2,269.3 L1082.2,274.6 L1083.1,269.8 L1084.1,274.6 L1085.0,269.3 L1086.0,274.2 L1086.9,270.0 L1087.9,274.8 L1088.8,270.5 L1089.8,274.9 L1090.7,270.0 L1091.7,275.2 L1092.6,270.7 L1093.6,275.3 L1094.5,259.3 L1095.5,274.7 L1096.4,256.8 L1097.4,273.3 L1098.3,255.8 L1099.3,273.5 L1100.2,255.8 L1101.2,274.0 L1102.1,255.3 L1103.1,273.8 L1104.0,255.9 L1105.0,274.0 L1105.9,257.6 L1106.9,274.3 L1107.8,266.6 L1108.8,274.2 L1109.7,264.8 L1110.7,274.5 L1111.6,264.6 L1112.6,274.0 L1113.5,264.1 L1114.5,274.8 L1115.4,263.8 L1116.4,274.3 L1117.3,264.7 L1118.3,274.4 L1119.2,263.6 L1120.2,273.3 L1121.1,263.6 L1122.1,273.7 L1123.0,264.4 L1124.0,274.0 L1124.9,264.4 L1125.9,273.8 L1126.8,264.2 L1127.8,273.4 L1128.7,264.3 L1129.7,273.7 L1130.6,263.9 L1131.6,273.1 L1132.5,263.6 L1133.5,273.2 L1134.4,263.6 L1135.4,274.0 L1136.3,264.0 L1137.3,273.9 L1138.2,264.7 L1139.2,273.9 L1140.1,264.9 L1141.1,273.9 L1142.0,264.4 L1143.0,272.9 L1143.9,265.4 L1144.9,272.6 L1145.8,262.3 L1146.8,272.7 L1147.7,260.0 L1148.7,273.2 L1149.6,258.9 L1150.6,272.9 L1151.5,258.8 L1152.5,272.1 L1153.4,258.4 L1154.4,272.4 L1155.3,258.3 L1156.3,272.0 L1157.2,258.1 L1158.2,272.6 L1159.1,258.2 L1160.1,272.5 L1161.0,259.3 L1162.0,272.2 L1162.9,261.0 L1163.9,272.5 L1164.8,266.9 L1165.8,272.0 L1166.7,266.5 L1167.7,272.7 L1168.6,266.6 L1169.6,272.1 L1170.5,266.5 L1171.5,272.6 L1172.4,266.9 L1173.4,272.5 L1174.3,266.8 L1175.3,272.7 L1176.2,264.5 L1177.2,273.6 L1178.1,263.5 L1179.1,274.9 L1180.0,262.4 L1181.0,279.3 L1181.9,261.7 L1182.9,280.0 L1183.8,260.7 L1184.8,280.0 L1185.7,258.9 L1186.7,278.6 L1187.6,259.1 L1188.6,272.2 L1189.5,259.0 L1190.5,273.2 L1191.4,258.6 L1192.4,271.9 L1193.3,259.1 L1194.3,272.4 L1195.2,260.3 L1196.2,273.6 L1197.1,262.2 L1198.1,272.6 L1199.0,262.7 L1200.0,272.9 L1200.9,262.5 L1201.9,272.6 L1202.8,263.8 L1203.8,272.8 L1204.7,266.0 L1205.7,273.8 L1206.6,265.9 L1207.6,274.0 L1208.5,265.3 L1209.5,273.9 L1210.4,264.8 L1211.4,273.6 L1212.3,264.7 L1213.3,274.8 L1214.2,264.7 L1215.2,274.0 L1216.1,265.0 L1217.1,274.5 L1218.0,264.6 L1219.0,274.8 L1219.9,264.9 L1220.9,274.4 L1221.8,265.0 L1222.8,274.5 L1223.7,265.6 L1224.7,273.8 L1225.6,265.2 L1226.6,274.2 L1227.5,265.0 L1228.5,275.4 L1229.4,265.5 L1230.4,275.7 L1231.3,265.3 L1232.3,276.0 L1233.2,265.7 L1234.2,276.0 L1235.1,265.6 L1236.1,275.7 L1237.0,266.8 L1238.0,275.4 L1238.9,267.2 L1239.9,276.8 L1240.8,257.0 L1241.8,277.2 L1242.7,255.4 L1243.7,276.6 L1244.6,254.6 L1245.6,276.4 L1246.5,255.0 L1247.5,276.8 L1248.4,255.5 L1249.4,275.6 L1250.3,256.5 L1251.3,275.7 L1252.2,264.9 L1253.2,275.5 L1254.1,262.5 L1255.1,275.3 L1256.0,261.7 L1257.0,275.1 L1257.9,261.2 L1258.9,273.9 L1259.8,261.6 L1260.8,275.0 L1261.7,261.6 L1262.7,274.8 L1263.6,261.5 L1264.6,275.1 L1265.5,261.3 L1266.5,274.9 L1267.4,261.8 L1268.4,275.5 L1269.3,261.5 L1270.3,274.5 L1271.2,261.4 L1272.2,274.7 L1273.1,262.2 L1274.1,275.0 L1275.0,263.8 L1276.0,275.2 L1276.9,268.7 L1277.9,273.9 L1278.8,268.3 L1279.8,273.9 L1280.7,267.3 L1281.7,274.0 L1282.6,268.3 L1283.6,273.9 L1284.5,267.3 L1285.5,273.7 L1286.4,261.8 L1287.4,274.2 L1288.3,257.7 L1289.3,274.5 L1290.2,255.1 L1291.2,273.8 L1292.1,254.8 L1293.1,273.7 L1294.0,255.0 L1295.0,273.8 L1295.9,254.0 L1296.9,273.9 L1297.8,255.2 L1298.8,274.8 L1299.7,254.7 L1300.7,274.0 L1301.6,255.5 L1302.6,274.5 L1303.5,256.7 L1304.5,275.0 L1305.4,258.4 L1306.4,274.7 L1307.3,268.6 L1308.3,275.2 L1309.2,268.7 L1310.2,275.8 L1311.1,269.4 L1312.1,275.6 L1313.0,268.9 L1314.0,275.8 L1314.9,268.7 L1315.9,275.9 L1316.8,269.4 L1317.8,275.9 L1318.7,268.9 L1319.7,276.3 L1320.6,269.3 L1321.6,276.2 L1322.5,269.2 L1323.5,276.1 L1324.4,268.7 L1325.4,275.9 L1326.3,262.4 L1327.3,277.0 L1328.2,260.3 L1329.2,276.6 L1330.1,259.6 L1331.1,276.9 L1332.0,259.1 L1333.0,277.6 L1333.9,259.6 L1334.9,278.3 L1335.8,259.5 L1336.8,278.9 L1337.7,259.5 L1338.7,278.6 L1339.6,260.3 L1340.6,278.7 L1341.5,262.1 L1342.5,278.3 L1343.4,271.3 L1344.4,277.8 L1345.3,269.8 L1346.3,277.0 L1347.2,270.1 L1348.2,277.1 L1349.1,263.6 L1350.1,277.0 L1351.0,260.5 L1352.0,276.9 L1352.9,260.1 L1353.9,276.9 L1354.8,259.8 L1355.8,277.4 L1356.7,259.9 L1357.7,276.9 L1358.6,261.1 L1359.6,277.5 L1360.5,262.7 L1361.5,276.6 L1362.4,265.1 L1363.4,277.7 L1364.3,263.6 L1365.3,278.2 L1366.2,262.7 L1367.2,277.3 L1368.1,262.7 L1369.1,277.0 L1370.0,262.7 L1371.0,276.4 L1371.9,263.3 L1372.9,276.8 L1373.8,262.4 L1374.8,276.3 L1375.7,263.0 L1376.7,276.4 L1377.6,263.0 L1378.6,274.9 L1379.5,264.0 L1380.5,275.8 L1381.4,268.1 L1382.4,275.8 L1383.3,269.1 L1384.3,275.3 L1385.2,269.9 L1386.2,276.0 L1387.1,258.8 L1388.1,276.6 L1389.0,255.5 L1390.0,275.3 L1390.9,255.0 L1391.9,274.8" fill="none" stroke="#ff8200" stroke-width="7" stroke-linejoin="round" stroke-linecap="round"/><path d="M1388.0,266.0 L1400.0,266.0" fill="none" stroke="#ff8200" stroke-width="7" stroke-linejoin="round" stroke-linecap="round"/><polygon points="1394.5,268.0 1412.0,268.0 1418.0,295.0 1420.0,345.0 1426.0,348.0 1428.0,385.0 1422.0,387.0 1415.0,352.0 1409.0,350.0 1409.0,398.0 1407.0,402.0 1398.0,402.0 1396.0,398.0 1395.0,300.0" fill="#ff8200" stroke="#ff8200" stroke-width="2" stroke-linejoin="round"/><path d="M1425.5,380.0 L1428.0,430.0 L1429.0,480.0 L1432.0,520.0 L1434.0,560.0 L1437.0,659.0 L1442.3,778.6 L1446.0,860.0 L1449.0,920.0 L1451.0,968.0 L1452.5,985.0 L1455.5,995.0 L1455.5,1128.6 L1460.0,1128.8 L1465.0,1128.9 L1470.0,1129.0 L1475.0,1129.2 L1480.0,1128.9 L1485.0,1129.2 L1490.0,1127.9 L1495.0,1128.6 L1500.0,1129.2 L1505.0,1128.8 L1510.0,1129.2 L1515.0,1128.1 L1520.0,1128.6 L1525.0,1128.2 L1530.0,1128.7 L1535.0,1128.7 L1540.0,1127.9 L1545.0,1128.2 L1550.0,1128.3 L1555.0,1129.2 L1560.0,1129.0 L1565.0,1128.1 L1570.0,1129.0 L1575.0,1128.1 L1580.0,1128.8 L1585.0,1128.1 L1590.0,1127.9 L1595.0,1129.1 L1600.0,1128.2 L1605.0,1128.2 L1610.0,1129.3 L1615.0,1129.1 L1620.0,1128.3 L1625.0,1129.2 L1630.0,1128.7 L1635.0,1128.8 L1640.0,1128.2 L1645.0,1129.2 L1650.0,1128.9 L1655.0,1129.3 L1660.0,1129.2 L1665.0,1128.3 L1668.0,1128.6" fill="none" stroke="#ff8200" stroke-width="7" stroke-linejoin="round" stroke-linecap="round"/><line x1="1391" y1="266" x2="1391" y2="251" stroke="#ff8200" stroke-width="9.5" stroke-linecap="round"/><line x1="1406.8" y1="266" x2="1406.8" y2="242" stroke="#ff8200" stroke-width="9.5" stroke-linecap="round"/><line x1="1428.5" y1="430" x2="1428.5" y2="478" stroke="#ff8200" stroke-width="9.5" stroke-linecap="round"/><line x1="1436.8" y1="650" x2="1437.2" y2="668" stroke="#ff8200" stroke-width="9.5" stroke-linecap="round"/><line x1="1441.5" y1="780" x2="1443" y2="852" stroke="#ff8200" stroke-width="9.5" stroke-linecap="round"/><line x1="1448" y1="895" x2="1450.5" y2="960" stroke="#ff8200" stroke-width="9.5" stroke-linecap="round"/>
<path d="M330.7,265.3 L331.6,270.1 L332.6,265.3 L333.5,271.1 L334.5,266.5 L335.4,270.6 L336.4,265.9 L337.3,269.4 L338.3,265.5 L339.2,269.3 L340.2,266.8 L341.1,271.2 L342.1,267.5 L343.0,271.6 L344.0,266.6 L344.9,270.4 L345.9,268.0 L346.8,272.3 L347.8,266.6 L348.7,268.1 L349.7,266.8 L350.6,268.5 L351.6,268.2 L352.5,267.8 L353.5,267.4 L354.4,267.2 L355.4,265.5 L356.3,265.3 L357.3,263.8 L358.2,269.4 L359.2,266.1 L360.1,269.5 L361.1,266.2 L362.0,270.1 L363.0,263.6 L363.9,269.8 L364.9,264.2 L365.8,268.1 L366.8,264.9 L367.7,263.4 L368.7,265.6 L369.6,267.0 L370.6,266.2 L371.5,266.0 L372.5,264.1 L373.4,266.4 L374.4,262.5 L375.3,264.7 L376.3,266.1 L377.2,262.9 L378.2,267.6 L379.1,264.1 L380.1,267.4 L381.0,266.1 L382.0,268.9 L382.9,267.0 L383.9,265.9 L384.8,267.5 L385.8,268.3 L386.7,270.2 L387.7,269.2 L388.6,268.3 L389.6,269.6 L390.5,271.0 L391.5,266.9 L392.4,269.4 L393.4,267.6 L394.3,272.0 L395.3,268.4 L396.2,272.0 L397.2,267.4 L398.1,271.3 L399.1,268.6 L400.0,270.7 L401.0,268.1 L401.9,272.4 L402.9,270.4 L403.8,269.2 L404.8,268.8 L405.7,270.2 L406.7,268.0 L407.6,270.0 L408.6,265.7 L409.5,271.0 L410.5,265.8 L411.4,272.6 L412.4,267.6 L413.3,272.1 L414.3,268.9 L415.2,269.3 L416.2,269.2 L417.1,268.8 L418.1,268.5 L419.0,271.2 L420.0,269.9 L420.9,271.4 L421.9,271.2 L422.8,268.4 L423.8,270.7 L424.7,268.3 L425.7,268.6 L426.6,266.6 L427.6,266.3 L428.5,266.3 L429.5,267.2 L430.4,269.1 L431.4,268.3 L432.3,268.8 L433.3,269.5 L434.2,268.3 L435.2,268.3 L436.1,268.5 L437.1,268.4 L438.0,269.8 L439.0,267.5 L439.9,270.0 L440.9,267.7 L441.8,270.3 L442.8,270.0 L443.7,274.2 L444.7,270.1 L445.6,274.5 L446.6,269.8 L447.5,275.4 L448.5,269.3 L449.4,273.7 L450.4,269.2 L451.3,275.3 L452.3,270.7 L453.2,272.2 L454.2,272.1 L455.1,271.5 L456.1,271.0 L457.0,271.5 L458.0,270.8 L458.9,270.6 L459.9,269.8 L460.8,271.0 L461.8,269.9 L462.7,270.8 L463.7,271.4 L464.6,273.5 L465.6,269.2 L466.5,270.6 L467.5,267.4 L468.4,272.7 L469.4,266.2 L470.3,272.1 L471.3,266.3 L472.2,272.8 L473.2,266.8 L474.1,270.1 L475.1,266.9 L476.0,268.5 L477.0,266.2 L477.9,266.8 L478.9,268.4 L479.8,267.0 L480.8,269.8 L481.7,269.8 L482.7,271.4 L483.6,272.5 L484.6,270.2 L485.5,275.1 L486.5,269.6 L487.4,273.9 L488.4,268.4 L489.3,272.5 L490.3,266.9 L491.2,273.1 L492.2,268.3 L493.1,273.5 L494.1,268.6 L495.0,271.5 L496.0,265.4 L496.9,270.8 L497.9,265.4 L498.8,269.5 L499.8,266.1 L500.7,266.9 L501.7,267.8 L502.6,268.2 L503.6,268.9 L504.5,268.0 L505.5,269.8 L506.4,269.9 L507.4,270.5 L508.3,271.6 L509.3,269.8 L510.2,272.6 L511.2,269.5 L512.1,272.0 L513.1,271.6 L514.0,272.3 L515.0,270.4 L515.9,274.1 L516.9,269.1 L517.8,273.2 L518.8,266.5 L519.7,272.9 L520.7,265.6 L521.6,272.2 L522.6,265.6 L523.5,271.4 L524.5,264.6 L525.4,272.1 L526.4,266.6 L527.3,269.9 L528.3,267.2 L529.2,272.1 L530.2,269.5 L531.1,269.9 L532.1,267.3 L533.0,272.5 L534.0,267.2 L534.9,273.6 L535.9,268.4 L536.8,272.2 L537.8,267.6 L538.7,272.8 L539.7,267.1 L540.6,270.4 L541.6,269.3 L542.5,271.1 L543.5,267.8 L544.4,269.9 L545.4,269.0 L546.3,272.0 L547.3,269.3 L548.2,271.4 L549.2,267.6 L550.1,270.8 L551.1,267.3 L552.0,268.5 L553.0,267.5 L553.9,270.4 L554.9,267.3 L555.8,269.6 L556.8,266.2 L557.8,270.3 L558.7,267.4 L559.7,269.4 L560.6,266.3 L561.6,270.6 L562.5,265.3 L563.5,269.2 L564.4,265.6 L565.4,267.7 L566.3,265.6 L567.3,269.1 L568.2,266.6 L569.2,267.4 L570.1,267.5 L571.1,269.6 L572.0,268.7 L573.0,272.4 L573.9,266.7 L574.9,273.5 L575.8,266.4 L576.8,272.3 L577.7,266.8 L578.7,269.4 L579.6,266.7 L580.6,269.7 L581.5,266.8 L582.5,273.2 L583.4,265.5 L584.4,270.7 L585.3,266.7 L586.3,268.8 L587.2,265.7 L588.2,270.9 L589.1,266.7 L590.1,275.1 L591.0,269.0 L592.0,275.1 L592.9,268.9 L593.9,272.1 L594.8,268.1 L595.8,272.7 L596.7,270.0 L597.7,273.5 L598.6,269.7 L599.6,273.9 L600.5,270.1 L601.5,274.2 L602.4,270.1 L603.4,274.8 L604.3,269.0 L605.3,275.2 L606.2,269.0 L607.2,273.1 L608.1,271.0 L609.1,273.2 L610.0,268.5 L611.0,275.4 L611.9,268.7 L612.9,273.3 L613.8,269.5 L614.8,274.0 L615.7,268.8 L616.7,273.3 L617.6,269.8 L618.6,274.2 L619.5,269.8 L620.5,275.3 L621.4,269.0 L622.4,275.7 L623.3,267.7 L624.3,273.8 L625.2,268.0 L626.2,272.8 L627.1,267.0 L628.1,271.7 L629.0,266.5 L630.0,270.0 L630.9,267.1 L631.9,269.0 L632.8,264.6 L633.8,269.8 L634.7,265.4 L635.7,268.8 L636.6,266.0 L637.6,270.8 L638.5,268.0 L639.5,271.6 L640.4,268.6 L641.4,272.2 L642.3,268.9 L643.3,272.8 L644.2,267.2 L645.2,275.3 L646.1,265.2 L647.1,276.4 L648.0,264.3 L649.0,275.9 L649.9,264.5 L650.9,273.8 L651.8,266.3 L652.8,275.1 L653.7,267.0 L654.7,274.2 L655.6,265.9 L656.6,274.7 L657.5,266.5 L658.5,274.5 L659.4,266.4 L660.4,274.7 L661.3,268.0 L662.3,276.6 L663.2,269.1 L664.2,276.4 L665.1,270.6 L666.1,277.7 L667.0,271.1 L668.0,277.7 L668.9,271.7 L669.9,279.8 L670.8,272.6 L671.8,280.6 L672.7,271.8 L673.7,280.3 L674.6,273.2 L675.6,280.9 L676.5,272.1 L677.5,278.9 L678.4,271.6 L679.4,276.6 L680.3,270.7 L681.3,279.7 L682.2,270.6 L683.2,279.3 L684.1,270.2 L685.1,279.3 L686.0,270.5 L687.0,279.4 L687.9,272.5 L688.9,282.4 L689.8,272.2 L690.8,282.3 L691.7,274.5 L692.7,280.2 L693.6,274.9 L694.6,279.3 L695.5,273.7 L696.5,280.9 L697.4,274.6 L698.4,280.7 L699.3,274.1 L700.3,282.7 L701.2,275.2 L702.2,282.0 L703.1,273.5 L704.1,282.5 L705.0,274.6 L706.0,280.7 L706.9,274.7 L707.9,281.1 L708.8,275.6 L709.8,283.8 L710.7,273.8 L711.7,284.3 L712.6,274.3 L713.6,285.1 L714.5,274.9 L715.5,285.7 L716.4,274.4 L717.4,286.7 L718.3,275.1 L719.3,287.4 L720.2,275.9 L721.2,284.3 L722.1,276.5 L723.1,283.1 L724.0,275.2 L725.0,280.4 L725.9,275.7 L726.9,281.9 L727.8,275.3 L728.8,282.6 L729.7,274.2 L730.7,284.3 L731.6,275.2 L732.6,284.4 L733.5,275.0 L734.5,283.8 L735.4,273.2 L736.4,284.9 L737.3,272.9 L738.3,284.1 L739.2,270.3 L740.2,281.7 L741.1,270.6 L742.1,280.3 L743.0,271.3 L744.0,279.9 L744.9,271.3 L745.9,279.3 L746.8,272.6 L747.8,279.3 L748.7,271.3 L749.7,281.6 L750.6,270.9 L751.6,280.1 L752.5,270.9 L753.5,280.7 L754.4,269.4 L755.4,280.3 L756.3,272.0 L757.3,281.7 L758.2,270.6 L759.2,281.7 L760.1,272.2 L761.1,280.8 L762.0,272.8 L763.0,279.7 L763.9,274.7 L764.9,279.5 L765.8,272.1 L766.8,278.1 L767.7,271.3 L768.7,278.9 L769.6,269.1 L770.6,279.9 L771.5,268.7 L772.5,279.0 L773.4,268.6 L774.4,278.7 L775.3,268.6 L776.3,279.4 L777.2,269.3 L778.2,278.3 L779.1,268.3 L780.1,280.4 L781.0,269.4 L782.0,277.7 L782.9,270.0 L783.9,279.0 L784.8,270.4 L785.8,281.5 L786.7,270.4 L787.7,278.8 L788.6,273.6 L789.6,278.0 L790.5,272.0 L791.5,278.5 L792.4,272.3 L793.4,281.7 L794.3,271.1 L795.3,280.3 L796.2,271.8 L797.2,277.5 L798.1,272.2 L799.1,279.2 L800.0,272.7 L801.0,280.1 L801.9,272.6 L802.9,281.8 L803.8,273.8 L804.8,280.5 L805.7,274.1 L806.7,280.8 L807.6,274.0 L808.6,278.7 L809.5,271.9 L810.5,281.3 L811.4,271.9 L812.4,280.7 L813.3,272.8 L814.3,280.1 L815.2,271.5 L816.2,281.7 L817.1,270.5 L818.1,282.6 L819.0,272.0 L820.0,280.3 L820.9,271.5 L821.9,278.8 L822.8,272.9 L823.8,279.9 L824.7,272.5 L825.7,281.2 L826.6,270.9 L827.6,281.3 L828.5,268.5 L829.5,279.5 L830.4,271.2 L831.4,277.6 L832.3,270.7 L833.3,278.2 L834.2,271.5 L835.2,280.2 L836.1,271.6 L837.1,279.4 L838.0,270.0 L839.0,277.0 L839.9,270.8 L840.9,278.6 L841.8,270.8 L842.8,278.6 L843.7,271.8 L844.7,279.8 L845.6,271.2 L846.6,279.9 L847.5,269.4 L848.5,281.0 L849.4,269.7 L850.4,279.3 L851.3,270.5 L852.3,278.3 L853.2,271.5 L854.2,277.9 L855.1,271.9 L856.1,279.2 L857.0,269.2 L858.0,278.0 L858.9,271.6 L859.9,281.0 L860.8,270.4 L861.8,277.1 L862.7,271.1 L863.7,278.3 L864.6,270.1 L865.6,279.1 L866.5,268.1 L867.5,279.9 L868.4,269.1 L869.4,279.2 L870.3,268.9 L871.3,278.3 L872.2,273.0 L873.2,278.4 L874.1,272.2 L875.1,278.3 L876.0,271.2 L877.0,279.1 L877.9,273.8 L878.9,279.1 L879.8,273.0 L880.8,280.8 L881.7,271.2 L882.7,279.6 L883.6,270.8 L884.6,279.4 L885.5,270.7 L886.5,282.2 L887.4,272.3 L888.4,283.4 L889.3,273.1 L890.3,282.6 L891.2,273.2 L892.2,281.5 L893.1,271.8 L894.1,283.1 L895.0,274.7 L896.0,286.7 L896.9,275.9 L897.9,286.7 L898.8,274.9 L899.8,286.0 L900.7,276.8 L901.7,285.8 L902.6,276.0 L903.6,286.3 L904.5,274.3 L905.5,282.6 L906.4,275.2 L907.4,281.0 L908.3,273.6 L909.3,281.5 L910.2,272.2 L911.2,280.3 L912.1,272.7 L913.1,280.5 L914.0,273.4 L915.0,279.3 L915.9,274.0 L916.9,280.0 L917.8,272.6 L918.8,277.4 L919.7,272.9 L920.7,277.5 L921.6,271.4 L922.6,279.4 L923.5,270.9 L924.5,277.8 L925.4,267.9 L926.4,278.5 L927.3,269.1 L928.3,277.7 L929.2,271.4 L930.2,281.1 L931.1,271.9 L932.1,281.3 L933.0,272.6 L934.0,279.9 L934.9,272.6 L935.9,277.5 L936.8,273.1 L937.8,277.8 L938.7,271.1 L939.7,275.7 L940.6,268.8 L941.6,278.5 L942.5,268.0 L943.5,278.2 L944.4,268.2 L945.4,276.6 L946.3,269.9 L947.3,276.7 L948.2,270.9 L949.2,276.1 L950.1,270.8 L951.1,276.9 L952.0,270.2 L953.0,275.6 L953.9,270.3 L954.9,275.8 L955.8,272.7 L956.8,276.0 L957.7,272.5 L958.7,278.3 L959.6,272.1 L960.6,277.9 L961.5,271.8 L962.5,279.2 L963.4,268.8 L964.4,276.4 L965.3,268.5 L966.3,277.1 L967.2,269.2 L968.2,279.6 L969.1,270.2 L970.1,280.4 L971.0,270.2 L972.0,280.7 L972.9,269.1 L973.9,279.1 L974.8,270.5 L975.8,277.7 L976.7,270.2 L977.7,275.5 L978.6,271.3 L979.6,277.1 L980.5,269.5 L981.5,274.9 L982.4,268.4 L983.4,276.8 L984.3,268.7 L985.3,276.4 L986.2,268.9 L987.2,277.7 L988.1,266.9 L989.1,275.7 L990.0,266.1 L991.0,277.5 L991.9,266.5 L992.9,277.9 L993.8,267.2 L994.8,276.1 L995.7,268.3 L996.7,274.1 L997.6,269.1 L998.6,274.1 L999.5,265.0 L1000.5,275.3 L1001.4,265.1 L1002.4,277.4 L1003.3,263.5 L1004.3,275.6 L1005.2,264.6 L1006.2,277.9 L1007.1,265.1 L1008.1,274.9 L1009.0,265.1 L1010.0,274.5 L1010.9,267.2 L1011.9,273.3 L1012.8,265.4 L1013.8,275.7 L1014.7,265.2 L1015.7,272.7 L1016.6,265.0 L1017.6,274.6 L1018.5,264.5 L1019.5,275.9 L1020.4,264.5 L1021.4,275.0 L1022.3,263.6 L1023.3,272.5 L1024.2,262.9 L1025.2,271.1 L1026.1,265.3 L1027.1,273.2 L1028.0,267.8 L1029.0,273.7 L1029.9,269.2 L1030.9,273.1 L1031.8,267.4 L1032.8,272.9 L1033.7,267.0 L1034.7,275.4 L1035.6,265.5 L1036.6,274.9 L1037.5,266.5 L1038.5,273.8 L1039.4,267.4 L1040.4,272.9 L1041.3,269.4 L1042.3,272.9 L1043.2,267.1 L1044.2,275.8 L1045.1,266.7 L1046.1,274.4 L1047.0,266.6 L1048.0,273.2 L1048.9,267.8 L1049.9,275.4 L1050.8,266.4 L1051.8,273.3 L1052.7,263.7 L1053.7,273.1 L1054.6,264.9 L1055.6,275.6 L1056.5,266.6 L1057.5,277.4 L1058.4,266.8 L1059.4,276.1 L1060.3,268.3 L1061.3,276.0 L1062.2,267.7 L1063.2,275.2 L1064.1,267.9 L1065.1,275.1 L1066.0,269.5 L1067.0,276.1 L1067.9,269.1 L1068.9,276.1 L1069.8,269.2 L1070.8,274.1 L1071.7,270.4 L1072.7,275.7 L1073.6,269.0 L1074.6,273.4 L1075.5,268.1 L1076.5,273.2 L1077.4,267.5 L1078.4,273.0 L1079.3,265.6 L1080.3,274.9 L1081.2,267.2 L1082.2,276.6 L1083.1,266.6 L1084.1,273.5 L1085.0,268.5 L1086.0,274.6 L1086.9,268.1 L1087.9,275.7 L1088.8,270.5 L1089.8,277.0 L1090.7,272.8 L1091.7,279.4 L1092.6,270.9 L1093.6,277.8 L1094.5,268.2 L1095.5,276.7 L1096.4,267.4 L1097.4,275.8 L1098.3,266.3 L1099.3,273.5 L1100.2,268.0 L1101.2,275.2 L1102.1,268.5 L1103.1,274.2 L1104.0,268.4 L1105.0,276.1 L1105.9,265.6 L1106.9,274.8 L1107.8,265.9 L1108.8,275.8 L1109.7,269.6 L1110.7,273.9 L1111.6,270.5 L1112.6,273.7 L1113.5,268.3 L1114.5,275.8 L1115.4,268.9 L1116.4,278.3 L1117.3,266.1 L1118.3,278.3 L1119.2,268.6 L1120.2,276.3 L1121.1,268.2 L1122.1,276.9 L1123.0,268.1 L1124.0,276.1 L1124.9,269.3 L1125.9,276.9 L1126.8,268.3 L1127.8,276.6 L1128.7,266.1 L1129.7,275.7 L1130.6,265.9 L1131.6,273.8 L1132.5,264.4 L1133.5,271.6 L1134.4,267.6 L1135.4,274.0 L1136.3,268.8 L1137.3,276.3 L1138.2,270.0 L1139.2,276.3 L1140.1,268.2 L1141.1,274.9 L1142.0,268.9 L1143.0,274.3 L1143.9,266.2 L1144.9,273.5 L1145.8,266.6 L1146.8,274.7 L1147.7,264.8 L1148.7,274.5 L1149.6,264.5 L1150.6,274.4 L1151.5,265.4 L1152.5,276.9 L1153.4,267.5 L1154.4,277.5 L1155.3,267.8 L1156.3,276.1 L1157.2,265.2 L1158.2,275.4 L1159.1,264.8 L1160.1,272.3 L1161.0,265.8 L1162.0,273.3 L1162.9,265.4 L1163.9,272.8 L1164.8,264.8 L1165.8,273.3 L1166.7,264.0 L1167.7,273.4 L1168.6,266.7 L1169.6,272.1 L1170.5,266.3 L1171.5,272.9 L1172.4,266.4 L1173.4,272.6 L1174.3,264.7 L1175.3,274.7 L1176.2,265.5 L1177.2,275.0 L1178.1,266.8 L1179.1,276.0 L1180.0,266.2 L1181.0,274.8 L1181.9,265.4 L1182.9,275.6 L1183.8,267.6 L1184.8,274.2 L1185.7,266.0 L1186.7,275.8 L1187.6,266.7 L1188.6,271.6 L1189.5,266.2 L1190.5,271.9 L1191.4,268.1 L1192.4,271.9 L1193.3,265.7 L1194.3,272.3 L1195.2,266.2 L1196.2,273.7 L1197.1,267.5 L1198.1,273.5 L1199.0,267.0 L1200.0,275.9 L1200.9,267.5 L1201.9,275.7 L1202.8,265.0 L1203.8,276.5 L1204.7,266.0 L1205.7,275.1 L1206.6,265.1 L1207.6,276.0 L1208.5,264.3 L1209.5,276.0 L1210.4,264.3 L1211.4,277.3 L1212.3,265.4 L1213.3,280.0 L1214.2,267.1 L1215.2,278.9 L1216.1,266.0 L1217.1,276.1 L1218.0,266.8 L1219.0,274.8 L1219.9,267.8 L1220.9,275.9 L1221.8,266.6 L1222.8,276.7 L1223.7,268.8 L1224.7,278.0 L1225.6,266.6 L1226.6,276.3 L1227.5,266.7 L1228.5,277.4 L1229.4,266.7 L1230.4,278.8 L1231.3,267.5 L1232.3,280.9 L1233.2,266.0 L1234.2,278.2 L1235.1,265.4 L1236.1,277.6 L1237.0,267.3 L1238.0,276.8 L1238.9,266.9 L1239.9,276.6 L1240.8,265.3 L1241.8,278.4 L1242.7,266.3 L1243.7,278.3 L1244.6,270.0 L1245.6,277.7 L1246.5,268.0 L1247.5,275.0 L1248.4,268.6 L1249.4,277.6 L1250.3,268.7 L1251.3,277.8 L1252.2,269.5 L1253.2,278.2 L1254.1,269.9 L1255.1,275.7 L1256.0,267.9 L1257.0,276.3 L1257.9,266.2 L1258.9,277.3 L1259.8,265.3 L1260.8,276.6 L1261.7,268.9 L1262.7,276.9 L1263.6,270.0 L1264.6,274.7 L1265.5,268.0 L1266.5,274.7 L1267.4,267.9 L1268.4,274.8 L1269.3,267.4 L1270.3,273.9 L1271.2,266.4 L1272.2,273.9 L1273.1,266.6 L1274.1,274.6 L1275.0,266.9 L1276.0,274.8 L1276.9,268.9 L1277.9,274.7 L1278.8,267.4 L1279.8,276.1 L1280.7,269.5 L1281.7,275.5 L1282.6,269.5 L1283.6,278.7 L1284.5,268.4 L1285.5,276.7 L1286.4,266.4 L1287.4,276.8 L1288.3,265.9 L1289.3,275.8 L1290.2,263.5 L1291.2,275.3 L1292.1,263.3 L1293.1,275.5 L1294.0,265.0 L1295.0,276.3 L1295.9,267.4 L1296.9,276.7 L1297.8,267.4 L1298.8,278.4 L1299.7,267.9 L1300.7,278.4 L1301.6,267.6 L1302.6,277.9 L1303.5,268.5 L1304.5,279.2 L1305.4,267.8 L1306.4,278.5 L1307.3,267.5 L1308.3,278.3 L1309.2,264.5 L1310.2,279.9 L1311.1,265.8 L1312.1,279.2 L1313.0,267.4 L1314.0,278.1 L1314.9,270.0 L1315.9,279.5 L1316.8,268.9 L1317.8,277.5 L1318.7,267.6 L1319.7,277.2 L1320.6,267.7 L1321.6,277.7 L1322.5,265.8 L1323.5,278.4 L1324.4,266.4 L1325.4,277.2 L1326.3,267.5 L1327.3,278.2 L1328.2,268.0 L1329.2,278.0 L1330.1,269.4 L1331.1,280.5 L1332.0,269.6 L1333.0,280.3 L1333.9,271.0 L1334.9,279.3 L1335.8,269.6 L1336.8,277.5 L1337.7,269.6 L1338.7,278.5 L1339.6,269.2 L1340.6,276.3 L1341.5,268.8 L1342.5,277.1 L1343.4,269.4 L1344.4,276.8 L1345.3,267.5 L1346.3,276.9 L1347.2,268.8 L1348.2,276.1 L1349.1,269.3 L1350.1,279.0 L1351.0,268.7 L1352.0,279.6 L1352.9,268.3 L1353.9,276.6 L1354.8,268.5 L1355.8,277.5 L1356.7,270.6 L1357.7,278.2 L1358.6,270.2 L1359.6,277.7 L1360.5,269.6 L1361.5,277.5 L1362.4,267.9 L1363.4,279.2 L1364.3,267.8 L1365.3,280.4 L1366.2,267.1 L1367.2,279.6 L1368.1,266.9 L1369.1,277.4 L1370.0,267.9 L1371.0,276.2 L1371.9,267.5 L1372.9,278.6 L1373.8,267.9 L1374.8,279.0 L1375.7,267.6 L1376.7,278.7 L1377.6,267.8 L1378.6,277.2 L1379.5,268.1 L1380.5,277.8 L1381.4,270.6 L1382.4,276.2 L1383.3,268.4 L1384.3,277.1 L1385.2,269.9 L1386.2,275.8 L1387.1,270.3 L1388.1,276.8 L1389.0,269.6 L1390.0,277.6 L1390.9,268.6 L1391.9,277.0 L1392.8,268.9 L1393.8,275.7 L1394.7,269.8 L1395.7,274.9 L1396.6,268.5 L1397.6,273.5 L1398.5,270.2 L1399.5,273.6 L1400.4,269.3 L1401.4,273.4" fill="none" stroke="#00a20a" stroke-width="7" stroke-linejoin="round" stroke-linecap="round"/><path d="M1553.0,276.0 L1557.0,278.0 L1561.5,283.0 L1561.5,327.0 L1566.0,330.0 L1566.0,395.0 L1571.0,395.0 L1571.5,209.0 L1573.0,209.0 L1575.0,440.0 L1577.4,480.0 L1579.7,510.6 L1580.8,612.5 L1584.8,673.6 L1589.0,745.0 L1594.0,790.0 L1599.4,820.8 L1606.5,861.5 L1610.6,912.5 L1618.7,953.2 L1625.9,983.8 L1629.0,1004.0 L1636.0,1020.0 L1639.0,1030.0 L1641.0,1045.0 L1643.0,1044.4 L1644.2,1053.5 L1645.4,1043.5 L1646.6,1051.8 L1647.8,1042.0 L1649.0,1053.0 L1650.2,1043.4 L1651.4,1053.3 L1652.6,1043.1 L1653.8,1053.3 L1655.0,1042.8 L1656.2,1053.4 L1657.4,1044.2 L1658.6,1052.2 L1659.8,1043.6 L1661.0,1053.0 L1662.2,1042.6 L1663.4,1052.7 L1664.6,1044.4 L1665.8,1051.8 L1667.0,1044.4 L1668.2,1053.1 L1669.4,1044.5 L1670.6,1052.0 L1671.8,1042.3 L1673.0,1053.4 L1674.2,1044.4 L1675.4,1052.3 L1676.6,1042.3 L1677.8,1051.6 L1679.5,1034.0 L1681.0,1040.0 L1681.0,1128.0 L1686.0,1128.2 L1692.0,1127.7 L1698.0,1128.6 L1704.0,1128.1 L1710.0,1127.6 L1716.0,1128.2 L1722.0,1127.8 L1728.0,1128.6 L1734.0,1128.6 L1740.0,1128.0 L1746.0,1128.2 L1752.0,1128.3 L1758.0,1128.4 L1764.0,1128.7 L1770.0,1127.3 L1776.0,1127.8 L1782.0,1128.1 L1788.0,1127.7 L1794.0,1128.1 L1800.0,1127.4 L1806.0,1128.5 L1812.0,1128.0 L1818.0,1127.5 L1824.0,1128.2 L1830.0,1127.7 L1836.0,1127.6 L1842.0,1128.0 L1848.0,1127.5 L1854.0,1127.6 L1860.5,1128.0" fill="none" stroke="#00a20a" stroke-width="7.5" stroke-linejoin="round" stroke-linecap="round"/><path d="M1398.0,272.5 L1399.0,272.5 L1400.4,272.5 L1402.1,272.6 L1404.0,272.6 L1406.0,272.5 L1408.1,272.4 L1410.5,272.3 L1413.0,272.1 L1415.5,271.8 L1418.0,271.5 L1420.5,270.9 L1423.0,270.1 L1425.5,269.3 L1428.0,268.8 L1430.5,268.7 L1433.0,269.3 L1435.6,270.3 L1438.2,271.5 L1440.7,272.9 L1443.0,274.0 L1445.1,275.1 L1447.1,276.4 L1449.0,277.5 L1451.0,278.3 L1453.0,278.6 L1455.1,278.1 L1457.4,277.1 L1459.6,275.8 L1461.8,274.3 L1464.0,273.0 L1466.1,271.6 L1468.1,270.0 L1470.1,268.4 L1472.2,267.3 L1474.5,266.8 L1477.0,267.3 L1479.8,268.4 L1482.6,270.0 L1485.3,271.6 L1488.0,273.0 L1490.5,274.3 L1492.9,275.8 L1495.3,277.1 L1497.6,278.1 L1500.0,278.4 L1502.4,277.8 L1504.9,276.5 L1507.4,274.8 L1509.8,273.2 L1512.0,272.0 L1514.1,271.1 L1516.1,270.3 L1518.1,269.7 L1519.9,269.4 L1521.5,269.5 L1522.9,270.4 L1524.1,271.9 L1525.2,273.6 L1526.3,275.0 L1527.5,275.5 L1528.9,274.8 L1530.3,273.1 L1531.7,271.1 L1533.3,269.5 L1535.0,268.7 L1536.8,269.1 L1538.8,270.3 L1540.9,271.9 L1543.0,273.4 L1545.0,274.5 L1547.2,275.1 L1549.5,275.5 L1551.7,275.7 L1553.6,275.9 L1555.0,276.0" fill="none" stroke="#00a20a" stroke-width="11" stroke-linejoin="round" stroke-linecap="round"/><line x1="1579.5" y1="497" x2="1580" y2="524" stroke="#00a20a" stroke-width="10" stroke-linecap="round"/><line x1="1584.5" y1="662" x2="1585.5" y2="688" stroke="#00a20a" stroke-width="10" stroke-linecap="round"/><line x1="1589" y1="738" x2="1590" y2="760" stroke="#00a20a" stroke-width="10" stroke-linecap="round"/><line x1="1598.5" y1="805" x2="1600.5" y2="838" stroke="#00a20a" stroke-width="10" stroke-linecap="round"/><line x1="1606" y1="852" x2="1607.5" y2="895" stroke="#00a20a" stroke-width="10" stroke-linecap="round"/><line x1="1628" y1="992" x2="1631" y2="1028" stroke="#00a20a" stroke-width="10" stroke-linecap="round"/><line x1="1638" y1="1047" x2="1677" y2="1048" stroke="#00a20a" stroke-width="10" stroke-linecap="round"/><polygon points="1622.0,985.0 1629.0,985.0 1638.0,1010.0 1646.0,1025.0 1647.0,1045.0 1636.0,1048.0 1626.0,1040.0 1622.0,1020.0" fill="#00a20a" stroke="#00a20a" stroke-width="3" stroke-linejoin="round"/>
</g>
<g id="axes"><rect x="255.8" y="36.2" width="1680.0" height="1148.8" fill="none" stroke="#555555" stroke-width="4.6"/><line x1="238" y1="126.3" x2="256" y2="126.3" stroke="#2c2c2c" stroke-width="3"/><line x1="238" y1="326.4" x2="256" y2="326.4" stroke="#2c2c2c" stroke-width="3"/><line x1="238" y1="531.8" x2="256" y2="531.8" stroke="#2c2c2c" stroke-width="3"/><line x1="238" y1="732.0" x2="256" y2="732.0" stroke="#2c2c2c" stroke-width="3"/><line x1="238" y1="932.0" x2="256" y2="932.0" stroke="#2c2c2c" stroke-width="3"/><line x1="238" y1="1137.6" x2="256" y2="1137.6" stroke="#2c2c2c" stroke-width="3"/><line x1="330.7" y1="1184" x2="330.7" y2="1206.5" stroke="#2c2c2c" stroke-width="3.8"/><line x1="521.3" y1="1184" x2="521.3" y2="1206.5" stroke="#2c2c2c" stroke-width="3.8"/><line x1="711.5" y1="1184" x2="711.5" y2="1206.5" stroke="#2c2c2c" stroke-width="3.8"/><line x1="902.0" y1="1184" x2="902.0" y2="1206.5" stroke="#2c2c2c" stroke-width="3.8"/><line x1="1093.2" y1="1184" x2="1093.2" y2="1206.5" stroke="#2c2c2c" stroke-width="3.8"/><line x1="1283.6" y1="1184" x2="1283.6" y2="1206.5" stroke="#2c2c2c" stroke-width="3.8"/><line x1="1474.3" y1="1184" x2="1474.3" y2="1206.5" stroke="#2c2c2c" stroke-width="3.8"/><line x1="1665.3" y1="1184" x2="1665.3" y2="1206.5" stroke="#2c2c2c" stroke-width="3.8"/><line x1="1851.0" y1="1184" x2="1851.0" y2="1206.5" stroke="#2c2c2c" stroke-width="3.8"/></g>
<g id="ticklabels" font-family="'DejaVu Sans', 'Liberation Sans', sans-serif"><text transform="translate(113.72,149.09) scale(0.47,0.543)" font-size="100" fill="#141414" stroke="#141414" stroke-width="1.4">0.05</text><text transform="translate(112.31,349.19) scale(0.47,0.543)" font-size="100" fill="#141414" stroke="#141414" stroke-width="1.4">0.04</text><text transform="translate(113.25,554.59) scale(0.47,0.543)" font-size="100" fill="#141414" stroke="#141414" stroke-width="1.4">0.03</text><text transform="translate(114.19,754.79) scale(0.47,0.543)" font-size="100" fill="#141414" stroke="#141414" stroke-width="1.4">0.02</text><text transform="translate(114.19,954.79) scale(0.47,0.543)" font-size="100" fill="#141414" stroke="#141414" stroke-width="1.4">0.01</text><text transform="translate(112.78,1160.39) scale(0.47,0.543)" font-size="100" fill="#141414" stroke="#141414" stroke-width="1.4">0.00</text><text transform="translate(319.16,1265.46) scale(0.47,0.543)" font-size="100" fill="#141414" stroke="#141414" stroke-width="1.4">0</text><text transform="translate(478.91,1265.46) scale(0.47,0.543)" font-size="100" fill="#141414" stroke="#141414" stroke-width="1.4">200</text><text transform="translate(663.59,1265.46) scale(0.47,0.543)" font-size="100" fill="#141414" stroke="#141414" stroke-width="1.4">400</text><text transform="translate(855.62,1265.46) scale(0.47,0.543)" font-size="100" fill="#141414" stroke="#141414" stroke-width="1.4">600</text><text transform="translate(1045.32,1265.46) scale(0.47,0.543)" font-size="100" fill="#141414" stroke="#141414" stroke-width="1.4">800</text><text transform="translate(1217.13,1265.46) scale(0.47,0.543)" font-size="100" fill="#141414" stroke="#141414" stroke-width="1.4">1000</text><text transform="translate(1408.43,1265.46) scale(0.47,0.543)" font-size="100" fill="#141414" stroke="#141414" stroke-width="1.4">1200</text><text transform="translate(1598.73,1265.46) scale(0.47,0.543)" font-size="100" fill="#141414" stroke="#141414" stroke-width="1.4">1400</text><text transform="translate(1789.43,1265.46) scale(0.47,0.543)" font-size="100" fill="#141414" stroke="#141414" stroke-width="1.4">1600</text></g>
<g font-family="'DejaVu Sans', 'Liberation Sans', sans-serif"><text transform="translate(70.8,759.9) rotate(-90) scale(0.524,0.515)" font-size="100" fill="#141414" stroke="#141414" stroke-width="1.4">Energy ( J )</text></g>
<g id="legend" font-family="'DejaVu Sans', 'Liberation Sans', sans-serif"><rect x="280.6" y="900.6" width="717.8" height="256.4" rx="5" ry="5" fill="#fff" fill-opacity="0.85" stroke="#d6d6d6" stroke-width="3"/><line x1="297" y1="940.3" x2="399" y2="940.3" stroke="#0589c6" stroke-width="7.5" stroke-linecap="round"/><line x1="297" y1="1019.5" x2="399" y2="1019.5" stroke="#ff9428" stroke-width="7.5" stroke-linecap="round"/><line x1="297" y1="1098.0" x2="399" y2="1098.0" stroke="#00b04a" stroke-width="7.5" stroke-linecap="round"/><text transform="translate(438.3,965.6) scale(0.5,0.568)" font-size="100" fill="#141414" stroke="#141414" stroke-width="1.4">LEACH</text><text transform="translate(438.3,1044.6) scale(0.5,0.568)" font-size="100" fill="#141414" stroke="#141414" stroke-width="1.4">FEHCA</text><text transform="translate(438.3,1128.8) scale(0.5,0.568)" font-size="100" fill="#141414" stroke="#141414" stroke-width="1.4">FEHCA: H_energy_UD</text></g>
<text transform="translate(877.0,1404.2) scale(0.562,0.562)" font-family="'DejaVu Serif', 'Liberation Serif', serif" font-size="100" fill="#000">Number of rounds</text><text transform="translate(1420.0,1415.8) scale(0.511,0.915)" font-family="'Noto Sans CJK JP', 'DejaVu Sans', sans-serif" font-weight="400" font-size="100" fill="#000">→</text><g font-family="'DejaVu Serif', 'Liberation Serif', serif" font-size="100" fill="#000"><text transform="translate(411.02,1483.4) scale(0.3221,0.568)">#</text><text transform="translate(454.15,1483.4) scale(0.5750,0.568)">H_energy_UD:</text><text transform="translate(890.26,1483.4) scale(0.5741,0.568)">High</text><text transform="translate(1048.09,1483.4) scale(0.5425,0.568)">energy</text><text transform="translate(1257.69,1483.4) scale(0.5704,0.568)">uniform</text><text transform="translate(1499.91,1483.4) scale(0.5583,0.568)">distribution</text></g>
</svg>
</body></html>
